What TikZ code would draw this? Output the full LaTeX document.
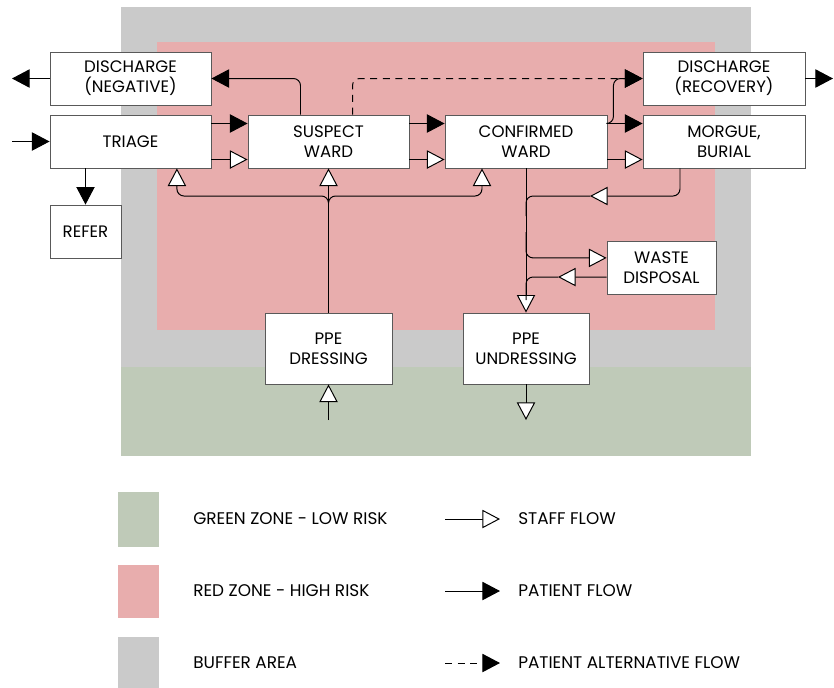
\documentclass[tikz,border=0pt]{standalone}
\usepackage{fontspec}
\setmainfont{Poppins}
\usetikzlibrary{arrows.meta}

\definecolor{bufferzone}{HTML}{CACACA}
\definecolor{redzone}{HTML}{E8ADAD}
\definecolor{greenzone}{HTML}{BFCAB8}

\begin{document}
\begin{tikzpicture}[x=0.025cm, y=-0.025cm]
\tikzstyle{box}=[draw=black!65, fill=white, line width=0.6pt, align=center, inner sep=0pt, font=\fontsize{11.8}{14}\selectfont, minimum width=4.025cm, minimum height=1.325cm]
\tikzstyle{patient}=[-{Triangle[length=12.5pt, width=13pt]}, line width=0.7pt, rounded corners=5pt]
\tikzstyle{staff}=[-{Triangle[length=12.5pt, width=13pt, fill=white]}, line width=0.7pt, rounded corners=5pt]
\tikzstyle{alt}=[patient, dash pattern=on 5pt off 4pt]
\tikzstyle{flow}=[line width=0.7pt, rounded corners=5pt]
\tikzstyle{swatch}=[inner sep=0pt, minimum width=1cm]
\tikzstyle{legend}=[anchor=west, inner sep=0pt, font=\fontsize{12}{14}\selectfont]

\useasboundingbox (0,0) rectangle (834,687);

\fill[bufferzone] (121,7) rectangle (751,367);
\fill[greenzone] (121,367) rectangle (751,456);
\fill[redzone] (157,42) rectangle (715,330);

\node[box] (disneg) at (130.5,78.5) {DISCHARGE\\(NEGATIVE)};
\node[box] (triage) at (130.5,141.5) {TRIAGE};
\node[box, minimum width=1.775cm] (refer) at (85.5,231.5) {REFER};
\node[box] (suspect) at (328.5,141.5) {SUSPECT\\WARD};
\node[box, minimum width=4.05cm] (confirmed) at (526,141.5) {CONFIRMED\\WARD};
\node[box, minimum width=4.05cm] (disrec) at (724,78.5) {DISCHARGE\\(RECOVERY)};
\node[box, minimum width=4.05cm] (morgue) at (724,141.5) {MORGUE,\\BURIAL};
\node[box, minimum width=2.725cm] (waste) at (661.5,267.5) {WASTE\\DISPOSAL};
\node[box, minimum width=3.175cm, minimum height=1.775cm] (dressing) at (328.5,348.5) {PPE\\DRESSING};
\node[box, minimum width=3.15cm, minimum height=1.775cm] (undressing) at (526,348.5) {PPE\\UNDRESSING};

\coordinate (entry) at (12,141.5);
\coordinate (exitneg) at (12,78.5);
\coordinate (exitrec) at (833,78.5);
\coordinate (staffin) at (328.5,420);
\coordinate (staffout) at (526,420);
\coordinate (hub) at (328.5,196);
\coordinate (mtip) at (590,196);
\coordinate (mturn) at (526,196);
\coordinate (wfrom) at (526,232);
\coordinate (wtip) at (558,277);
\coordinate (wjoin) at (526,300);

\path
(entry) edge[patient] (triage.west)
(disneg.west) edge[patient] (exitneg)
(disrec.east) edge[patient] (exitrec)
(triage.south -| refer.north) edge[patient] (refer.north)
([yshift=0.45cm]triage.east) edge[patient] ([yshift=0.45cm]suspect.west)
([yshift=-0.45cm]triage.east) edge[staff] ([yshift=-0.45cm]suspect.west)
([yshift=0.45cm]suspect.east) edge[patient] ([yshift=0.45cm]confirmed.west)
([yshift=-0.45cm]suspect.east) edge[staff] ([yshift=-0.45cm]confirmed.west)
([yshift=0.45cm]confirmed.east) edge[patient] ([yshift=0.45cm]morgue.west)
([yshift=-0.45cm]confirmed.east) edge[staff] ([yshift=-0.45cm]morgue.west)
(staffin) edge[staff] (dressing.south)
(confirmed.south) edge[staff] (undressing.north)
(undressing.south) edge[staff] (staffout);

\draw[patient] ([xshift=-0.7cm]suspect.north) |- (disneg.east);
\draw[alt] ([xshift=0.6cm]suspect.north) |- (disrec.west);
\draw[patient] ([yshift=0.45cm]confirmed.east) -- ++(6,0) |- (disrec.west);

\draw[flow] (dressing.north) -- (hub);
\draw[staff] (hub) -- (suspect.south);
\draw[staff] (dressing.north) -- (hub) -| ([xshift=1.16cm]triage.south);
\draw[staff] (dressing.north) -- (hub) -| ([xshift=-1.1cm]confirmed.south);

\draw[staff] ([xshift=-1.1cm]morgue.south) |- (mtip);
\draw[flow] (mtip) -- (mturn) -- ++(0,20);
\draw[staff] (wfrom) |- ([yshift=0.24cm]waste.west);
\draw[staff] ([yshift=-0.24cm]waste.west) -- (wtip);
\draw[flow] (wtip) -| (wjoin);

\node[swatch, fill=greenzone, minimum height=1.375cm] (sgreen) at (138.5,519.5) {};
\node[swatch, fill=redzone, minimum height=1.325cm] (sred) at (138.5,591.5) {};
\node[swatch, fill=bufferzone, minimum height=1.3cm] (sbuffer) at (138.5,663) {};
\node[legend] (lgreen) at (193,519) {GREEN ZONE - LOW RISK};
\node[legend] (lred) at (193,591) {RED ZONE - HIGH RISK};
\node[legend] (lbuffer) at (193,663) {BUFFER AREA};

\coordinate (a1) at (445,519);
\coordinate (b1) at (500,519);
\coordinate (a2) at (445,591);
\coordinate (b2) at (500,591);
\coordinate (a3) at (445,663);
\coordinate (b3) at (500,663);
\draw[staff] (a1) -- (b1);
\draw[patient] (a2) -- (b2);
\draw[alt] (a3) -- (b3);
\node[legend] (lstaff) at (518,519) {STAFF FLOW};
\node[legend] (lpatient) at (518,591) {PATIENT FLOW};
\node[legend] (lalt) at (518,663) {PATIENT ALTERNATIVE FLOW};
\end{tikzpicture}
\end{document}
